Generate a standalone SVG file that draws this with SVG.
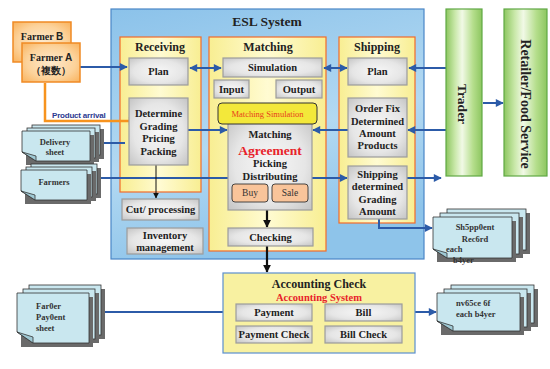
<svg xmlns="http://www.w3.org/2000/svg" width="550" height="369" viewBox="0 0 550 369">
<defs>
<style>
.t{font-family:"Liberation Serif","Times New Roman",serif;font-weight:bold;fill:#222;text-anchor:middle}
.bx{font-size:10.5px}
.dt{font-family:"Liberation Serif",serif;font-weight:bold;fill:#333;font-size:8.5px}
.gbox{fill:url(#gGray);stroke:#9c9c9c;stroke-width:1.2}
.col{fill:url(#gYel);stroke:#f26b2a;stroke-width:1.2}
.doc{fill:#c9e7ef;stroke:#333;stroke-width:0.8}
.sh{fill:#6a6a6a}
.fold{fill:#9fc9d4;stroke:#333;stroke-width:0.8}
.ba{stroke:#2c5ba8;stroke-width:2;fill:none}
.bk{stroke:#111;fill:none}
.grn{fill:url(#gGreen);stroke:#5fa844;stroke-width:1.2}
.frm{fill:url(#gOrange);stroke:#f08a24;stroke-width:1.5}
</style>
<linearGradient id="gBlue" x1="0" y1="0" x2="0.3" y2="1">
<stop offset="0" stop-color="#8bc2ea"/><stop offset="0.6" stop-color="#b3d9f2"/><stop offset="1" stop-color="#8ec4ea"/>
</linearGradient>
<linearGradient id="gYel" x1="0" y1="0" x2="1" y2="0">
<stop offset="0" stop-color="#f8ee92"/><stop offset="0.5" stop-color="#fffbd2"/><stop offset="1" stop-color="#f8ee92"/>
</linearGradient>
<radialGradient id="gGray" cx="0.5" cy="0.5" r="0.7">
<stop offset="0" stop-color="#f7f7f7"/><stop offset="0.6" stop-color="#e6e6e6"/><stop offset="1" stop-color="#c4c4c4"/>
</radialGradient>
<linearGradient id="gGreen" x1="0" y1="0" x2="1" y2="0">
<stop offset="0" stop-color="#8dc660"/><stop offset="0.25" stop-color="#c9e8a9"/><stop offset="0.45" stop-color="#f1f9e6"/><stop offset="0.75" stop-color="#b5de8c"/><stop offset="1" stop-color="#8dc660"/>
</linearGradient>
<radialGradient id="gOrange" cx="0.5" cy="0.5" r="0.7">
<stop offset="0" stop-color="#fde9cc"/><stop offset="0.6" stop-color="#fcd29a"/><stop offset="1" stop-color="#f9b25c"/>
</radialGradient>
<marker id="aB" viewBox="0 0 10 10" refX="9" refY="5" markerWidth="9" markerHeight="8" markerUnits="userSpaceOnUse" orient="auto-start-reverse"><path d="M0,0 L10,5 L0,10 z" fill="#2c5ba8"/></marker>
<marker id="aK" viewBox="0 0 10 10" refX="9" refY="5" markerWidth="8" markerHeight="8" markerUnits="userSpaceOnUse" orient="auto"><path d="M0,0 L10,5 L0,10 z" fill="#111"/></marker>
<marker id="aKs" viewBox="0 0 10 10" refX="9" refY="5" markerWidth="6" markerHeight="6" markerUnits="userSpaceOnUse" orient="auto"><path d="M0,0 L10,5 L0,10 z" fill="#111"/></marker>
<marker id="aO" viewBox="0 0 10 10" refX="9" refY="5" markerWidth="9" markerHeight="8" markerUnits="userSpaceOnUse" orient="auto"><path d="M0,0 L10,5 L0,10 z" fill="#f7931e"/></marker>
</defs>

<rect width="550" height="369" fill="#fff"/>

<g id="esl">
<rect x="111" y="9" width="313" height="250" fill="url(#gBlue)" stroke="#4a86c6" stroke-width="1.2"/>
<text class="t" x="267" y="26" font-size="13.5">ESL System</text>
</g>

<g id="receiving">
<rect class="col" x="120" y="37" width="81" height="155"/>
<text class="t" x="160" y="51" font-size="12">Receiving</text>
</g>
<g id="matching">
<rect class="col" x="209" y="37" width="117" height="214"/>
<text class="t" x="268" y="51" font-size="12">Matching</text>
</g>
<g id="shipping">
<rect class="col" x="339" y="37" width="76" height="186"/>
<text class="t" x="377" y="51" font-size="12">Shipping</text>
</g>

<g id="connectors">
<path class="ba" d="M80,67 H127" marker-end="url(#aB)"/>
<path class="ba" d="M190,68 H221" marker-start="url(#aB)" marker-end="url(#aB)"/>
<path class="ba" d="M324,68 H347" marker-start="url(#aB)" marker-end="url(#aB)"/>
<path class="ba" d="M446,68 H409" marker-end="url(#aB)"/>
<path class="ba" d="M188,130 H227" marker-end="url(#aB)"/>
<path class="ba" d="M348,130 H313" marker-end="url(#aB)"/>
<path class="ba" d="M446,130 H408" marker-end="url(#aB)"/>
<path class="ba" d="M125,143 H91" marker-end="url(#aB)"/>
<path class="ba" d="M230,178 H88" marker-end="url(#aB)"/>
<path class="ba" d="M310,178 H347" marker-end="url(#aB)"/>
<path class="ba" d="M407,178 H441" marker-end="url(#aB)"/>
<path class="ba" d="M483,103 H503" marker-end="url(#aB)"/>
<path class="ba" d="M379,219 V228 H432" marker-end="url(#aB)"/>
<path class="ba" d="M237,312 H91" marker-end="url(#aB)"/>
<path class="ba" d="M402,312 H436" marker-end="url(#aB)"/>
<path d="M45,83 V121 H136" stroke="#f7931e" stroke-width="2.5" fill="none" marker-end="url(#aO)"/>
<path class="bk" d="M156,165 V198" stroke-width="1" marker-end="url(#aKs)"/>
<path class="bk" d="M267,210 V227" stroke-width="2.2" marker-end="url(#aK)"/>
<path class="bk" d="M267,246 V272" stroke-width="2.2" marker-end="url(#aK)"/>
</g>

<text x="52" y="118" font-family="Liberation Sans,Arial,sans-serif" font-weight="bold" font-size="8" fill="#2b3990" letter-spacing="-0.2">Product arrival</text>

<g id="farmerB">
<rect class="frm" x="13" y="22" width="58" height="40"/>
<text class="t" x="42" y="40" font-size="10">Farmer <tspan font-family="Liberation Sans,Arial,sans-serif">B</tspan></text>
</g>
<g id="farmerA">
<rect class="frm" x="22" y="43" width="58" height="39"/>
<text class="t" x="51" y="61" font-size="10">Farmer <tspan font-family="Liberation Sans,Arial,sans-serif">A</tspan></text>
<text class="t" x="51" y="74" font-size="9.5" font-family="Noto Sans CJK JP,sans-serif">（複数）</text>
</g>

<g id="recvPlan">
<rect class="gbox" x="129" y="58" width="59" height="27"/>
<text class="t bx" x="158.5" y="75">Plan</text>
</g>
<g id="determine">
<rect class="gbox" x="129" y="98" width="59" height="67"/>
<text class="t bx" x="158.5" y="117">Determine</text>
<text class="t bx" x="158.5" y="130">Grading</text>
<text class="t bx" x="158.5" y="142">Pricing</text>
<text class="t bx" x="158.5" y="155">Packing</text>
</g>
<g id="cut">
<rect class="gbox" x="122" y="199" width="77" height="21"/>
<text class="t bx" x="160.5" y="213">Cut/ processing</text>
</g>
<g id="inventory">
<rect class="gbox" x="127" y="228" width="76" height="26"/>
<text class="t bx" x="165" y="239">Inventory</text>
<text class="t bx" x="165" y="251">management</text>
</g>

<g id="simulation">
<rect class="gbox" x="223" y="58" width="99" height="19"/>
<text class="t bx" x="272.5" y="71">Simulation</text>
</g>
<g id="input">
<rect class="gbox" x="214" y="80" width="35" height="18"/>
<text class="t bx" x="231.5" y="93">Input</text>
</g>
<g id="output">
<rect class="gbox" x="276" y="80" width="46" height="18"/>
<text class="t bx" x="299" y="93">Output</text>
</g>
<g id="agreement">
<rect class="gbox" x="228" y="118" width="84" height="92"/>
<text class="t bx" x="270" y="138">Matching</text>
<text class="t" x="270" y="155" font-size="13.5" fill="#e8232a" style="fill:#e8232a">Agreement</text>
<text class="t bx" x="270" y="167">Picking</text>
<text class="t bx" x="270" y="180">Distributing</text>
</g>
<g id="matchSim">
<rect x="218" y="103" width="99" height="21" rx="4" fill="#f3e83a" stroke="#333" stroke-width="1"/>
<text x="267.5" y="117" font-family="Liberation Serif,serif" font-size="8.5" fill="#e8401c" text-anchor="middle">Matching Simulation</text>
</g>
<g id="buy">
<rect x="232" y="184" width="36" height="18" rx="3" fill="#f9c49a" stroke="#333" stroke-width="0.9"/>
<text x="250" y="196" font-family="Liberation Serif,serif" font-size="9.5" fill="#333" text-anchor="middle">Buy</text>
</g>
<g id="sale">
<rect x="272" y="184" width="36" height="18" rx="3" fill="#f9c49a" stroke="#333" stroke-width="0.9"/>
<text x="290" y="196" font-family="Liberation Serif,serif" font-size="9.5" fill="#333" text-anchor="middle">Sale</text>
</g>
<g id="checking">
<rect class="gbox" x="228" y="228" width="85" height="18"/>
<text class="t bx" x="270.5" y="241">Checking</text>
</g>

<g id="shipPlan">
<rect class="gbox" x="348" y="58" width="59" height="27"/>
<text class="t bx" x="377.5" y="75">Plan</text>
</g>
<g id="orderFix">
<rect class="gbox" x="348" y="98" width="59" height="59"/>
<text class="t bx" x="377.5" y="112">Order Fix</text>
<text class="t bx" x="377.5" y="125">Determined</text>
<text class="t bx" x="377.5" y="137">Amount</text>
<text class="t bx" x="377.5" y="149">Products</text>
</g>
<g id="shipDetermined">
<rect class="gbox" x="348" y="166" width="59" height="53"/>
<text class="t bx" x="377.5" y="178">Shipping</text>
<text class="t bx" x="377.5" y="190">determined</text>
<text class="t bx" x="377.5" y="203">Grading</text>
<text class="t bx" x="377.5" y="215">Amount</text>
</g>

<g id="trader">
<rect class="grn" x="446" y="9" width="36" height="167"/>
<text class="t" transform="translate(463,104) rotate(90)" dy="0.35em" font-size="13.5">Trader</text>
</g>
<g id="retailer">
<rect class="grn" x="504" y="9" width="43" height="167"/>
<text class="t" transform="translate(526,104) rotate(90)" dy="0.35em" font-size="14">Retailer/Food Service</text>
</g>

<g id="accounting">
<rect x="223" y="273" width="192" height="80" fill="#f8f1a1" stroke="#5b8fcf" stroke-width="1.2"/>
<text class="t" x="319" y="288" font-size="12">Accounting Check</text>
<text class="t" x="319" y="301" font-size="10.5" style="fill:#e8232a">Accounting System</text>
</g>
<g id="payment">
<rect class="gbox" x="236" y="304" width="76" height="17"/>
<text class="t bx" x="274" y="316">Payment</text>
</g>
<g id="bill">
<rect class="gbox" x="325" y="304" width="77" height="17"/>
<text class="t bx" x="363.5" y="316">Bill</text>
</g>
<g id="paymentCheck">
<rect class="gbox" x="236" y="326" width="76" height="17"/>
<text class="t bx" x="274" y="338">Payment Check</text>
</g>
<g id="billCheck">
<rect class="gbox" x="325" y="326" width="77" height="17"/>
<text class="t bx" x="363.5" y="338">Bill Check</text>
</g>

<g id="deliverySheet">
<rect class="sh" x="36" y="129" width="68" height="30"/>
<rect class="doc" x="32" y="125" width="68" height="30"/>
<rect class="sh" x="31" y="132" width="68" height="30"/>
<rect class="doc" x="27" y="128" width="68" height="30"/>
<path class="sh" d="M26,135 H94 V165 H26 Z"/>
<path class="doc" d="M22,131 H90 V161 H36 L22,152 Z"/>
<path class="fold" d="M22,152 L36,156 L36,161 Z"/>
<text class="dt" x="55" y="145" text-anchor="middle">Delivery</text>
<text class="dt" x="55" y="155" text-anchor="middle">sheet</text>
</g>
<g id="farmers">
<rect class="sh" x="35" y="168" width="66" height="30"/>
<rect class="doc" x="31" y="164" width="66" height="30"/>
<rect class="sh" x="30" y="171" width="66" height="30"/>
<rect class="doc" x="26" y="167" width="66" height="30"/>
<path class="sh" d="M25,174 H91 V204 H25 Z"/>
<path class="doc" d="M21,170 H87 V200 H35 L21,191 Z"/>
<path class="fold" d="M21,191 L35,195 L35,200 Z"/>
<text class="dt" x="54" y="185" text-anchor="middle">Farmers</text>
</g>
<g id="shipmentRecord">
<rect class="sh" x="451" y="213" width="79" height="41"/>
<rect class="doc" x="447" y="209" width="79" height="41"/>
<rect class="sh" x="444" y="217" width="79" height="41"/>
<rect class="doc" x="440" y="213" width="79" height="41"/>
<path class="sh" d="M437,221 H516 V262 H437 Z"/>
<path class="doc" d="M433,217 H512 V258 H447 L433,249 Z"/>
<path class="fold" d="M433,249 L447,253 L447,258 Z"/>
<text class="dt" x="475" y="230" text-anchor="middle">Sh5pp0ent</text>
<text class="dt" x="475" y="242" text-anchor="middle">Rec6rd</text>
<text class="dt" x="446" y="252">each</text>
<text class="dt" x="453" y="263">b4yer</text>
</g>
<g id="farmerPayment">
<rect class="sh" x="33" y="289" width="72" height="50"/>
<rect class="doc" x="29" y="285" width="72" height="50"/>
<rect class="sh" x="27" y="293" width="72" height="50"/>
<rect class="doc" x="23" y="289" width="72" height="50"/>
<path class="sh" d="M21,297 H93 V347 H21 Z"/>
<path class="doc" d="M17,293 H89 V343 H33 L17,332 Z"/>
<path class="fold" d="M17,332 L33,337 L33,343 Z"/>
<text class="dt" x="36" y="309">Far0er</text>
<text class="dt" x="36" y="320">Pay0ent</text>
<text class="dt" x="36" y="331">sheet</text>
</g>
<g id="invoice">
<rect class="sh" x="455" y="289" width="83" height="38"/>
<rect class="doc" x="451" y="285" width="83" height="38"/>
<rect class="sh" x="448" y="293" width="83" height="38"/>
<rect class="doc" x="444" y="289" width="83" height="38"/>
<path class="sh" d="M441,297 H524 V335 H441 Z"/>
<path class="doc" d="M437,293 H520 V331 H453 L437,321 Z"/>
<path class="fold" d="M437,321 L453,326 L453,331 Z"/>
<text class="dt" x="456" y="306">nv65ce 6f</text>
<text class="dt" x="456" y="317">each b4yer</text>
</g>
</svg>
